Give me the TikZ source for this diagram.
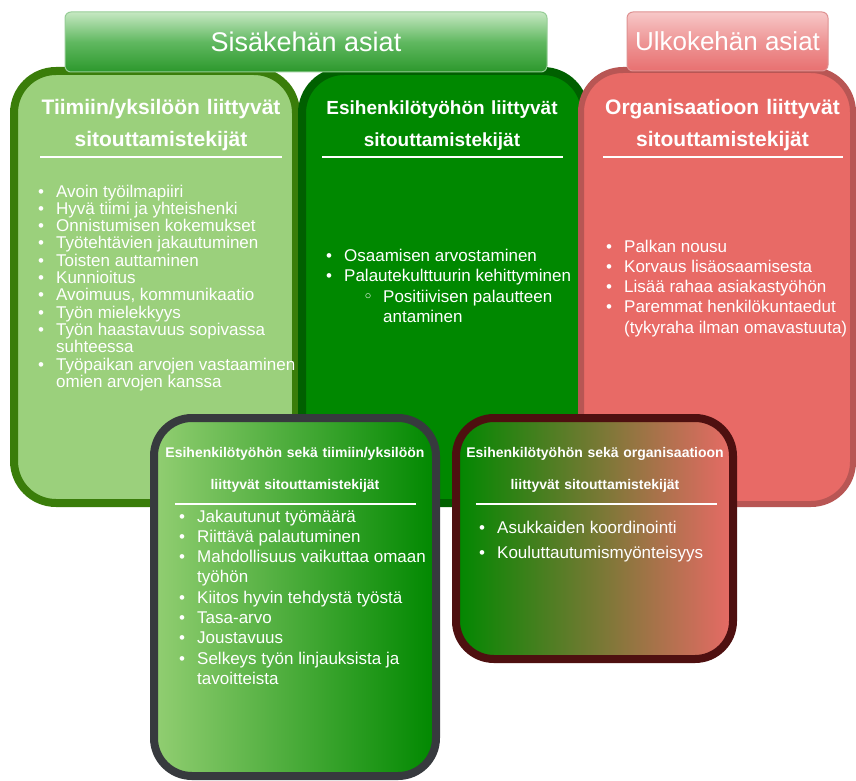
\documentclass[tikz,border=0pt]{standalone}
\usepackage{fontspec}
\setmainfont{Liberation Sans}
\newfontfamily\bulletfont{DejaVu Sans}
\usepackage{xcolor}
\usetikzlibrary{positioning}

\definecolor{teamfill}{RGB}{155,208,124}
\definecolor{teamedge}{RGB}{58,125,10}
\definecolor{bossfill}{RGB}{0,136,0}
\definecolor{bossedge}{RGB}{0,96,0}
\definecolor{orgfill}{RGB}{232,106,102}
\definecolor{orgedge}{RGB}{184,86,84}
\definecolor{mixedge}{RGB}{55,58,62}
\definecolor{orgmixedge}{RGB}{78,16,16}
\definecolor{mixlight}{RGB}{146,206,114}
\definecolor{innertop}{RGB}{198,232,194}
\definecolor{innermid}{RGB}{96,184,96}
\definecolor{innerbot}{RGB}{44,152,44}
\definecolor{inneredge}{RGB}{150,205,150}
\definecolor{outertop}{RGB}{247,200,200}
\definecolor{outermid}{RGB}{238,150,150}
\definecolor{outerbot}{RGB}{232,112,112}
\definecolor{outeredge}{RGB}{222,145,145}

\newlength\bulw
\setlength\bulw{18pt}
\newcommand{\bitem}[1]{\par\noindent\hangindent=\bulw\hangafter=1\makebox[\bulw][l]{\textbullet}#1}
\newcommand{\sbitem}[1]{\par\noindent\hangindent=57pt\hangafter=1\hspace*{37pt}\makebox[20pt][l]{{\bulletfont ◦}}#1}
\newcommand{\itembox}[2]{\parbox[t]{#1}{\raggedright#2}}

\begin{document}
\begin{tikzpicture}[
  x=1pt, y=-1pt,
  panel/.style={rectangle, rounded corners=42pt, line width=8pt, inner sep=0pt, outer sep=0pt},
  mixpanel/.style={rectangle, rounded corners=38pt, line width=8pt, inner sep=0pt, outer sep=0pt},
  header/.style={rectangle, rounded corners=6pt, line width=1pt, inner sep=0pt,
                 text=white, font=\fontsize{27}{32}\selectfont},
  ttl/.style={text=white, align=center, anchor=base, inner sep=0pt,
              text width=270pt, font=\bfseries\fontsize{21}{32}\selectfont},
  smallttl/.style={ttl, font=\bfseries\fontsize{14}{32}\selectfont},
  items/.style={text=white, anchor=base west, inner sep=0pt,
                font=\fontsize{17}{20.3}\selectfont},
  rule/.style={draw=white, line width=2pt},
]
\useasboundingbox (0,0) rectangle (856,781);

\node[panel, fill=teamfill, draw=teamedge, minimum width=282pt, minimum height=432pt] (team) at (155,287) {};
\node[panel, fill=bossfill, draw=bossedge, minimum width=283pt, minimum height=432pt] (boss) at (443.5,287) {};
\node[panel, fill=orgfill, draw=orgedge, line width=6pt, minimum width=272pt, minimum height=434pt] (org) at (717,287) {};

\node[header, top color=innertop, bottom color=innerbot, middle color=innermid, draw=inneredge,
      minimum width=482pt, minimum height=60pt] (inner) at (306,42) {Sisäkehän asiat};
\node[header, top color=outertop, bottom color=outerbot, middle color=outermid, draw=outeredge,
      minimum width=201pt, minimum height=59pt, font=\fontsize{26}{32}\selectfont] (outer) at (727.5,41.5) {Ulkokehän asiat};

\node[ttl] (teamttl) at (161,115) {Tiimiin/yksilöön liittyvät\\sitouttamistekijät};
\node[ttl, font=\bfseries\fontsize{19}{32}\selectfont] (bossttl) at (442,115) {Esihenkilötyöhön liittyvät\\sitouttamistekijät};
\node[ttl, text width=260pt] (orgttl) at (722.5,115) {Organisaatioon liittyvät\\sitouttamistekijät};
\draw[rule] (40,157) -- (282,157);
\draw[rule] (322,157) -- (563,157);
\draw[rule] (603,157) -- (843,157);

\node[items, font=\fontsize{17}{17.3}\selectfont] (teamlist) at (38,197) {\itembox{264pt}{%
  \bitem{Avoin työilmapiiri}
  \bitem{Hyvä tiimi ja yhteishenki}
  \bitem{Onnistumisen kokemukset}
  \bitem{Työtehtävien jakautuminen}
  \bitem{Toisten auttaminen}
  \bitem{Kunnioitus}
  \bitem{Avoimuus, kommunikaatio}
  \bitem{Työn mielekkyys}
  \bitem{Työn haastavuus sopivassa suhteessa}
  \bitem{Työpaikan arvojen vastaaminen omien arvojen kanssa}}};
\node[items] (bosslist) at (326,261.5) {\itembox{254pt}{%
  \bitem{Osaamisen arvostaminen}
  \bitem{Palautekulttuurin kehittyminen}
  \sbitem{Positiivisen palautteen antaminen}}};
\node[items] (orglist) at (606,252) {\itembox{248pt}{%
  \bitem{Palkan nousu}
  \bitem{Korvaus lisäosaamisesta}
  \bitem{Lisää rahaa asiakastyöhön}
  \bitem{Paremmat henkilökuntaedut (tykyraha ilman omavastuuta)}}};

\node[mixpanel, left color=mixlight, right color=bossfill, draw=mixedge,
      minimum width=282pt, minimum height=358pt] (teamboss) at (295,597) {};
\node[mixpanel, left color=bossfill, right color=orgfill, draw=orgmixedge,
      minimum width=277pt, minimum height=241pt] (orgboss) at (594.5,538.5) {};

\node[smallttl] (teambossttl) at (295,457) {Esihenkilötyöhön sekä tiimiin/yksilöön\\liittyvät sitouttamistekijät};
\node[smallttl] (orgbossttl) at (595,457) {Esihenkilötyöhön sekä organisaatioon\\liittyvät sitouttamistekijät};
\draw[rule] (175,504) -- (416,504);
\draw[rule] (476,504) -- (717,504);

\node[items] (teambosslist) at (179,522) {\itembox{256pt}{%
  \bitem{Jakautunut työmäärä}
  \bitem{Riittävä palautuminen}
  \bitem{Mahdollisuus vaikuttaa omaan työhön}
  \bitem{Kiitos hyvin tehdystä työstä}
  \bitem{Tasa-arvo}
  \bitem{Joustavuus}
  \bitem{Selkeys työn linjauksista ja tavoitteista}}};
\node[items, font=\fontsize{17}{25}\selectfont] (orgbosslist) at (479,533) {\itembox{240pt}{%
  \bitem{Asukkaiden koordinointi}
  \bitem{Kouluttautumismyönteisyys}}};

\end{tikzpicture}
\end{document}
